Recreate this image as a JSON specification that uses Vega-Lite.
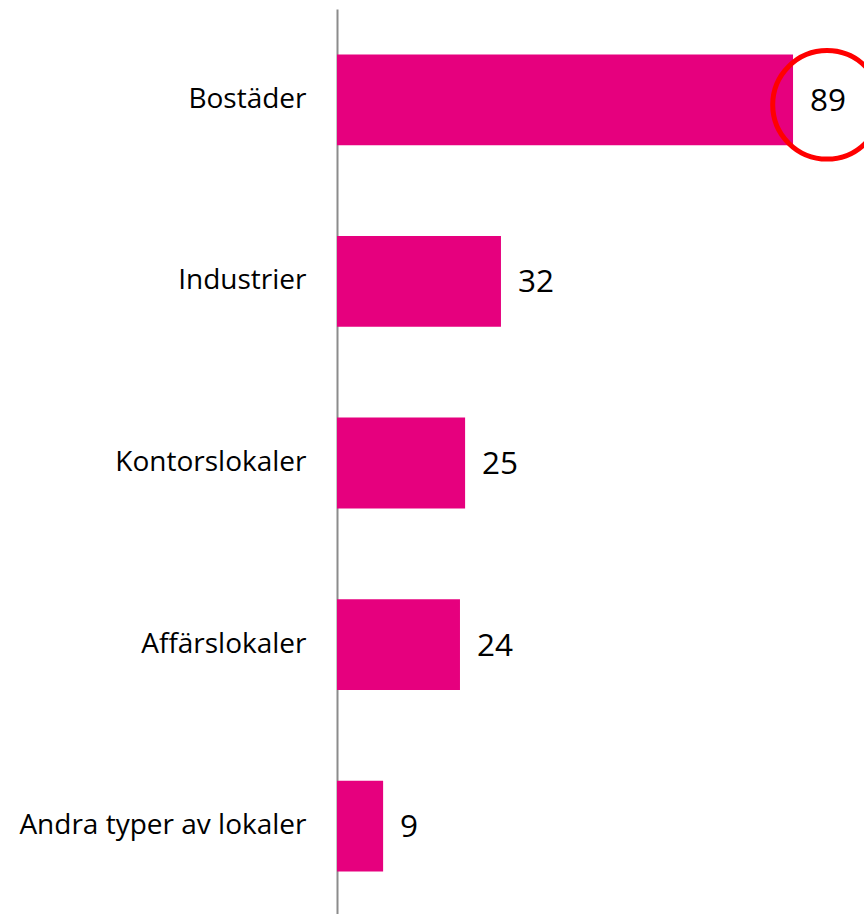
{
  "$schema": "https://vega.github.io/schema/vega-lite/v6.json",
  "autosize": {"type": "none"},
  "width": 527,
  "height": 908,
  "padding": {"left": 337, "top": 9, "right": 0, "bottom": 0},
  "background": "white",
  "config": {"view": {"stroke": null}, "font": "Open Sans"},
  "data": {
    "values": [
      {"kategori": "Bostäder", "antal": 89, "markera": true},
      {"kategori": "Industrier", "antal": 32, "markera": false},
      {"kategori": "Kontorslokaler", "antal": 25, "markera": false},
      {"kategori": "Affärslokaler", "antal": 24, "markera": false},
      {"kategori": "Andra typer av lokaler", "antal": 9, "markera": false}
    ]
  },
  "encoding": {
    "y": {
      "field": "kategori",
      "type": "nominal",
      "sort": null,
      "scale": {"paddingInner": 0.5, "paddingOuter": 0.25},
      "axis": {
        "title": null,
        "ticks": false,
        "labelPadding": 31,
        "labelFontSize": 28,
        "labelFont": "Open Sans",
        "labelColor": "#000000",
        "domainColor": "#8c8c8c",
        "domainWidth": 2,
        "labelLimit": 400
      }
    },
    "x": {
      "field": "antal",
      "type": "quantitative",
      "scale": {"domain": [0, 102.85], "nice": false, "zero": true},
      "axis": null
    }
  },
  "layer": [
    {"mark": {"type": "bar", "color": "#e6007e"}},
    {
      "mark": {"type": "text", "align": "left", "baseline": "middle", "dx": 17, "dy": 2, "fontSize": 31.5, "font": "Open Sans", "color": "#000000"},
      "encoding": {"text": {"field": "antal", "type": "quantitative"}}
    },
    {
      "transform": [{"filter": "datum.markera"}],
      "mark": {"type": "point", "shape": "circle", "filled": false, "stroke": "#ff0000", "strokeWidth": 5, "size": 11800, "xOffset": 34, "yOffset": 5, "opacity": 1}
    }
  ]
}
